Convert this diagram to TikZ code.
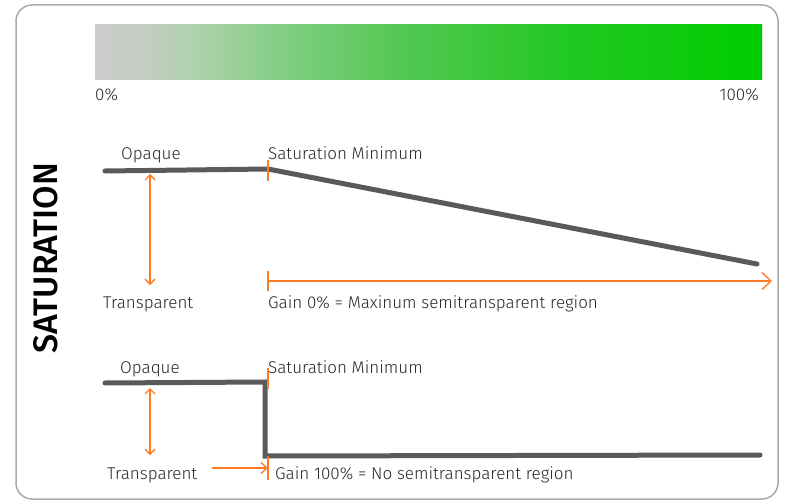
\documentclass[tikz,border=0pt]{standalone}
\usepackage{fontspec}
\setmainfont{Fira Sans Light}[BoldFont={Fira Sans Medium}]
\usetikzlibrary{arrows.meta}
\definecolor{curve}{HTML}{5A5A5A}
\definecolor{orng}{HTML}{FF7A22}
\definecolor{frm}{HTML}{AAAAAA}
\pgfdeclarehorizontalshading{satbar}{100bp}{
  color(0bp)=({rgb,255:red,204;green,204;blue,204});
  color(25bp)=({rgb,255:red,204;green,204;blue,204});
  color(29bp)=({rgb,255:red,195;green,205;blue,195});
  color(33bp)=({rgb,255:red,170;green,210;blue,170});
  color(40bp)=({rgb,255:red,125;green,205;blue,125});
  color(47.5bp)=({rgb,255:red,85;green,200;blue,85});
  color(60bp)=({rgb,255:red,35;green,200;blue,35});
  color(72.5bp)=({rgb,255:red,5;green,204;blue,5});
  color(75bp)=({rgb,255:red,0;green,204;blue,0});
  color(100bp)=({rgb,255:red,0;green,204;blue,0})}
\tikzset{
  curveline/.style={line width=5pt, curve, line cap=round, line join=miter},
  orline/.style={line width=1.3pt, orng},
  dbl/.style={orline, {Straight Barb[length=5pt,width=10pt]}-{Straight Barb[length=5pt,width=10pt]}},
  one/.style={orline, -{Straight Barb[length=9pt,width=17pt]}},
  small/.style={orline, -{Straight Barb[length=6pt,width=11pt]}},
  lbl/.style={font=\fontsize{17}{17}\selectfont, text=black!85, inner sep=0pt, anchor=base west},
}
\begin{document}
\begin{tikzpicture}[x=1pt,y=-1pt]
\useasboundingbox (0,0) rectangle (785,503);
% frame
\draw[frm, line width=1.5pt, rounded corners=16pt] (16,5) rectangle (778,499);
% gradient bar
\node[inner sep=0pt, anchor=north west, minimum width=667pt, minimum height=55pt, shading=satbar] (bar) at (95,24) {};
\node[lbl] (p0) at (95,101) {0\%};
\node[lbl, anchor=base east] (p100) at (759,101) {100\%};
% title
\node[rotate=90, font=\fontsize{34}{34}\selectfont\bfseries, inner sep=0pt] (title) at (46,258) {SATURATION};

% ---------- top graph ----------
\coordinate (a1) at (105,171);
\coordinate (a2) at (268,169);
\coordinate (a3) at (757,264);
\draw[curveline] (a1) -- (a2) -- (a3);
\coordinate (t1a) at (268,160);
\coordinate (t1b) at (268,181);
\draw[orline] (t1a) -- (t1b);
\node[lbl] (op1) at (121,159) {Opaque};
\node[lbl] (sm1) at (268,159) {Saturation Minimum};
\coordinate (d1a) at (150,174);
\coordinate (d1b) at (150,285);
\draw[dbl] (d1a) -- (d1b);
\node[lbl] (tr1) at (103,308) {Transparent};
\coordinate (g1a) at (268,281);
\coordinate (g1b) at (772,281);
\coordinate (g1t) at (268,271);
\coordinate (g1u) at (268,291);
\draw[orline] (g1t) -- (g1u);
\draw[one] (g1a) -- (g1b);
\node[lbl] (g1) at (268,308) {Gain 0\% = Maxinum semitransparent region};

% ---------- bottom graph ----------
\coordinate (b1) at (105,383);
\coordinate (b2) at (265,382);
\coordinate (b3) at (265,456);
\coordinate (b4) at (760,455);
\draw[curveline, line cap=round] (b1) -- (b2) -- (b3) -- (b4);
\coordinate (t2a) at (268,368);
\coordinate (t2b) at (268,389);
\draw[orline] (t2a) -- (t2b);
\node[lbl] (op2) at (120,373) {Opaque};
\node[lbl] (sm2) at (268,373) {Saturation Minimum};
\coordinate (d2a) at (150,388);
\coordinate (d2b) at (150,455);
\draw[dbl] (d2a) -- (d2b);
\node[lbl] (tr2) at (107,479) {Transparent};
\coordinate (t3a) at (268,456);
\coordinate (t3b) at (268,480);
\draw[orline] (t3a) -- (t3b);
\coordinate (h2a) at (212,468);
\draw[small] (h2a) -- (t3a |- h2a);
\node[lbl] (g2) at (275,479) {Gain 100\% = No semitransparent region};
\end{tikzpicture}
\end{document}
